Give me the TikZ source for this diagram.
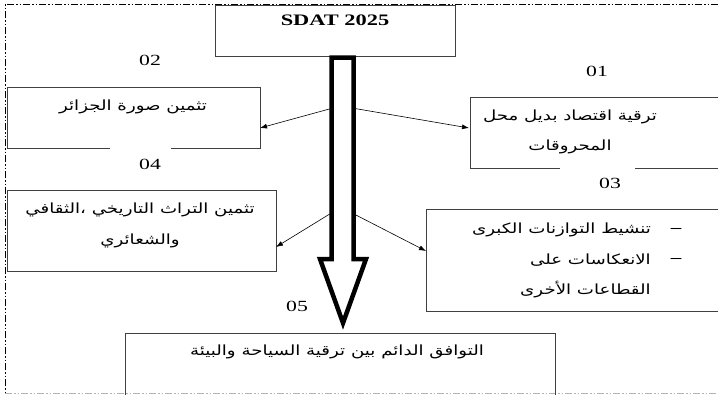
\documentclass[tikz,border=0pt]{standalone}
\usepackage{fontspec}
\setmainfont{Liberation Serif}[FakeStretch=1.4]
\newfontfamily\arabicfont[Script=Arabic, FakeStretch=1.3]{DejaVu Sans}
\TeXXeTstate=1
\usetikzlibrary{arrows.meta}
\tikzset{
  box/.style={draw=black!75, line width=0.8pt},
  num/.style={font=\fontsize{15.5}{15.5}\selectfont, inner sep=0pt},
  artext/.style={font=\arabicfont\fontsize{14}{14}\selectfont, inner sep=0pt},
  conn/.style={line width=0.6pt, -{Latex[length=7pt,width=5pt]}},
  frame/.style={line width=0.9pt, dash pattern=on 7pt off 2pt on 1.5pt off 2pt on 1.5pt off 2pt},
  bigarrow/.style={line width=4.5pt, miter limit=10, fill=white, draw=black},
  bullet/.style={font=\bfseries\fontsize{15}{15}\selectfont, inner sep=0pt}
}
\begin{document}
\begin{tikzpicture}[x=1pt,y=-1pt]
\useasboundingbox (0,0) rectangle (718,394);
% outer frame
\draw[frame] (718,4) -- (5,4) -- (5,393);
\draw[frame, draw=black!30] (5,393) -- (718,393);

% top box
\draw[box] (215,5) rectangle (455,56);
\node[font=\bfseries\fontsize{16}{16}\selectfont, inner sep=0pt] (sdat) at (335,20) {SDAT 2025};

% numbers
\node[num] (n02) at (150,60) {02};
\node[num] (n01) at (597,71) {01};
\node[num] (n04) at (150,164) {04};
\node[num] (n03) at (610,183) {03};
\node[num] (n05) at (297,306) {05};

% left box 1
\coordinate (lb1) at (260,128);
\draw[box] (110,148) -- (7,148) -- (7,87) -- (260,87) -- (260,148) -- (171,148);
\node[artext] (t1) at (133,107) {\beginR تثمين صورة الجزائر\endR};

% right box 1
\coordinate (rb1) at (469,128);
\draw[box] (560,168) -- (470,168) -- (470,97) -- (720,97);
\draw[box] (635,168) -- (720,168);
\node[artext] (t2a) at (570,117) {\beginR ترقية اقتصاد بديل محل\endR};
\node[artext] (t2b) at (570,147) {\beginR المحروقات\endR};

% left box 2
\coordinate (lb2) at (276,247);
\draw[box] (7,190) rectangle (276,271);
\node[artext] (t3a) at (140,210) {\beginR تثمين التراث التاريخي ،الثقافي\endR};
\node[artext] (t3b) at (140,241) {\beginR والشعائري\endR};

% right box 2
\coordinate (rb2) at (426,251);
\draw[box] (720,209) -- (426,209) -- (426,311) -- (720,311);
\node[artext, anchor=east] (t4a) at (651,230) {\beginR تنشيط التوازنات الكبرى\endR};
\node[artext, anchor=east] (t4b) at (651,260) {\beginR الانعكاسات على\endR};
\node[artext, anchor=east] (t4c) at (651,290) {\beginR القطاعات الأخرى\endR};
\node[bullet] (d1) at (676,230) {–};
\node[bullet] (d2) at (676,260) {–};

% bottom box
\draw[box] (125,396) -- (125,333) -- (555,333) -- (555,396);
\node[artext] (t5) at (337,352) {\beginR التوافق الدائم بين ترقية السياحة والبيئة\endR};

% big arrow
\draw[bigarrow] (331.5,57.5) -- (353.5,57.5) -- (353.5,259) -- (366,259) -- (343,323) -- (320,259) -- (331.5,259) -- cycle;
\coordinate (a1) at (333,108);
\coordinate (a2) at (352,108);
\coordinate (a3) at (333,212);
\coordinate (a4) at (352,213);

% connectors
\draw[conn] (a1) -- (lb1);
\draw[conn] (a2) -- (rb1);
\draw[conn] (a3) -- (lb2);
\draw[conn] (a4) -- (rb2);
\end{tikzpicture}
\end{document}
